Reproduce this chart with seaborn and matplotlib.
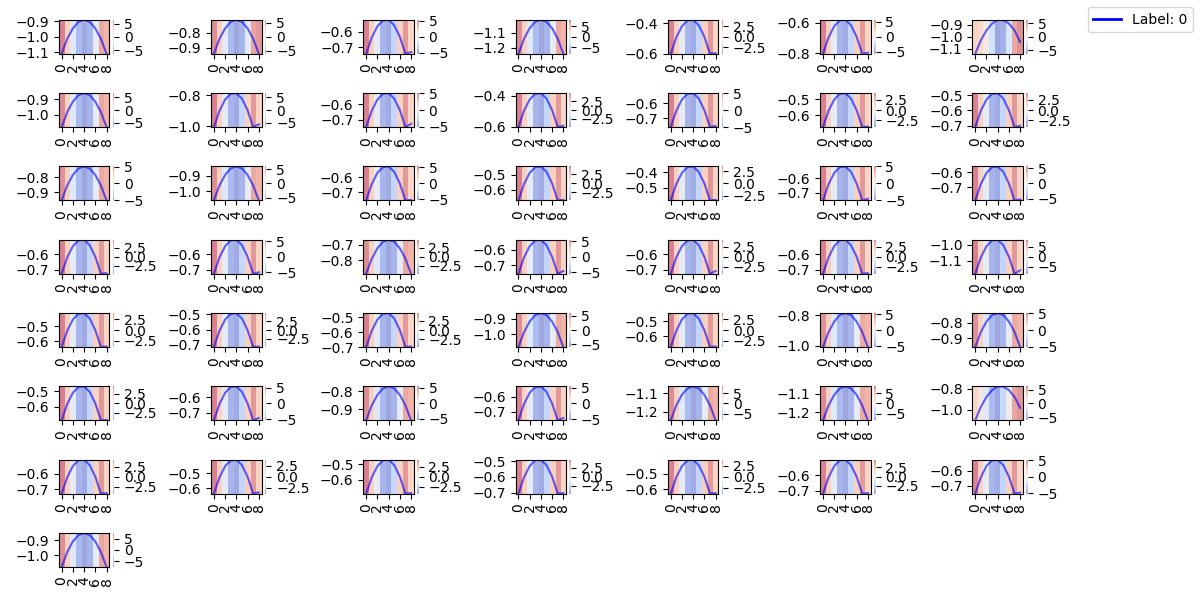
import numpy as np
import matplotlib
matplotlib.use("Agg")
import matplotlib.pyplot as plt
from matplotlib.lines import Line2D
import seaborn as sns

# ---------------- data ----------------
x_positions = [0, 1, 2, 3, 4, 5, 6, 7, 8]
x_ticks = [0, 2, 4, 6, 8]
legend_label = "Label: 0"

line_values = [
    [-1.111, -1.013, -0.945, -0.902, -0.889, -0.902, -0.945, -1.013, -1.111],
    [-0.938, -0.840, -0.772, -0.729, -0.716, -0.729, -0.772, -0.840, -0.938],
    [-0.744, -0.637, -0.564, -0.526, -0.522, -0.558, -0.633, -0.744, -0.733],
    [-1.240, -1.141, -1.072, -1.029, -1.016, -1.029, -1.072, -1.141, -1.240],
    [-0.601, -0.494, -0.421, -0.383, -0.379, -0.415, -0.490, -0.601, -0.597],
    [-0.804, -0.697, -0.624, -0.586, -0.582, -0.618, -0.693, -0.804, -0.797],
    [-1.143, -1.030, -0.946, -0.889, -0.857, -0.860, -0.889, -0.946, -1.043],
    [-1.082, -0.984, -0.916, -0.873, -0.860, -0.873, -0.916, -0.984, -1.082],
    [-1.004, -0.900, -0.828, -0.791, -0.787, -0.822, -0.896, -1.004, -0.986],
    [-0.749, -0.642, -0.569, -0.531, -0.527, -0.563, -0.638, -0.749, -0.727],
    [-0.604, -0.497, -0.424, -0.386, -0.382, -0.418, -0.493, -0.604, -0.595],
    [-0.760, -0.651, -0.576, -0.538, -0.533, -0.569, -0.647, -0.760, -0.751],
    [-0.676, -0.572, -0.501, -0.464, -0.460, -0.495, -0.568, -0.676, -0.672],
    [-0.709, -0.602, -0.529, -0.491, -0.487, -0.523, -0.598, -0.709, -0.700],
    [-0.956, -0.856, -0.786, -0.743, -0.729, -0.743, -0.786, -0.856, -0.956],
    [-1.060, -0.963, -0.895, -0.853, -0.840, -0.853, -0.895, -0.963, -1.060],
    [-0.756, -0.647, -0.572, -0.534, -0.529, -0.565, -0.643, -0.756, -0.752],
    [-0.671, -0.562, -0.487, -0.449, -0.444, -0.480, -0.558, -0.671, -0.667],
    [-0.584, -0.477, -0.404, -0.366, -0.362, -0.398, -0.473, -0.584, -0.580],
    [-0.751, -0.641, -0.566, -0.527, -0.522, -0.559, -0.637, -0.751, -0.740],
    [-0.789, -0.680, -0.605, -0.567, -0.562, -0.598, -0.676, -0.789, -0.782],
    [-0.727, -0.621, -0.549, -0.511, -0.507, -0.542, -0.617, -0.727, -0.723],
    [-0.727, -0.621, -0.549, -0.511, -0.507, -0.542, -0.617, -0.727, -0.718],
    [-0.889, -0.791, -0.723, -0.680, -0.667, -0.680, -0.723, -0.791, -0.889],
    [-0.756, -0.649, -0.575, -0.538, -0.533, -0.569, -0.645, -0.756, -0.738],
    [-0.727, -0.620, -0.546, -0.509, -0.504, -0.540, -0.616, -0.727, -0.709],
    [-0.727, -0.620, -0.547, -0.509, -0.505, -0.541, -0.616, -0.727, -0.723],
    [-1.182, -1.079, -1.008, -0.971, -0.967, -1.001, -1.075, -1.182, -1.160],
    [-0.640, -0.531, -0.456, -0.418, -0.413, -0.449, -0.527, -0.640, -0.636],
    [-0.716, -0.608, -0.534, -0.496, -0.491, -0.527, -0.604, -0.716, -0.712],
    [-0.700, -0.591, -0.516, -0.478, -0.473, -0.509, -0.587, -0.700, -0.696],
    [-1.082, -0.985, -0.917, -0.875, -0.862, -0.875, -0.917, -0.985, -1.082],
    [-0.669, -0.562, -0.489, -0.451, -0.447, -0.483, -0.558, -0.669, -0.665],
    [-1.007, -0.909, -0.840, -0.797, -0.784, -0.797, -0.840, -0.909, -1.007],
    [-0.956, -0.859, -0.791, -0.749, -0.736, -0.749, -0.791, -0.859, -0.956],
    [-0.689, -0.582, -0.509, -0.471, -0.467, -0.503, -0.578, -0.689, -0.685],
    [-0.751, -0.644, -0.571, -0.533, -0.529, -0.565, -0.640, -0.751, -0.735],
    [-0.960, -0.878, -0.821, -0.785, -0.774, -0.785, -0.821, -0.878, -0.960],
    [-0.756, -0.649, -0.575, -0.538, -0.533, -0.569, -0.645, -0.756, -0.740],
    [-1.245, -1.165, -1.109, -1.075, -1.064, -1.075, -1.109, -1.165, -1.245],
    [-1.243, -1.163, -1.107, -1.072, -1.061, -1.072, -1.107, -1.163, -1.243],
    [-1.100, -0.972, -0.877, -0.813, -0.777, -0.780, -0.813, -0.877, -0.981],
    [-0.729, -0.622, -0.549, -0.511, -0.507, -0.543, -0.618, -0.729, -0.725],
    [-0.636, -0.526, -0.451, -0.412, -0.407, -0.444, -0.522, -0.636, -0.627],
    [-0.689, -0.583, -0.511, -0.473, -0.469, -0.504, -0.579, -0.689, -0.685],
    [-0.707, -0.602, -0.530, -0.493, -0.489, -0.524, -0.598, -0.707, -0.703],
    [-0.629, -0.522, -0.449, -0.411, -0.407, -0.443, -0.518, -0.629, -0.625],
    [-0.718, -0.614, -0.543, -0.506, -0.502, -0.537, -0.610, -0.718, -0.714],
    [-0.751, -0.644, -0.571, -0.533, -0.529, -0.565, -0.640, -0.751, -0.744],
    [-1.082, -0.980, -0.907, -0.863, -0.849, -0.863, -0.907, -0.980, -1.082],
]

heat_values = [
    [6.4, 2.9, -1.3, -5.1, -6.2, -5.4, -0.6, 5.1, 4.5],
    [5.7, 2.7, -1.0, -4.8, -6.0, -5.1, -0.8, 4.9, 5.4],
    [5.3, 2.4, -0.5, -4.5, -5.0, -2.7, 2.4, 4.8, 2.1],
    [7.7, 3.6, -1.6, -6.5, -8.1, -6.9, -0.8, 6.5, 5.7],
    [4.0, 1.8, -0.4, -3.4, -3.8, -2.0, 1.8, 3.6, 1.6],
    [5.6, 2.5, -0.6, -4.8, -5.3, -2.8, 2.5, 5.0, 2.2],
    [2.5, 2.2, 0.6, -2.2, -6.25, -5.6, -1.6, 5.0, 5.9],
    [6.4, 3.0, -1.3, -5.4, -6.7, -5.7, -0.7, 5.4, 4.7],
    [6.7, 3.0, -0.7, -5.7, -6.4, -3.4, 3.0, 6.0, 2.7],
    [5.1, 2.3, -0.5, -4.3, -4.8, -2.6, 2.3, 4.6, 2.0],
    [4.8, 2.2, -0.5, -4.1, -4.6, -2.4, 2.2, 4.3, 1.9],
    [5.0, 2.3, -0.5, -4.3, -4.8, -2.5, 2.3, 4.5, 2.0],
    [4.2, 1.9, -0.4, -3.6, -4.0, -2.1, 1.9, 3.8, 1.7],
    [4.2, 1.9, -0.4, -3.6, -4.0, -2.1, 1.9, 3.8, 1.7],
    [4.8, 2.3, -1.0, -4.1, -5.1, -4.3, -0.5, 4.1, 3.6],
    [5.7, 2.7, -1.2, -4.8, -6.0, -5.1, -0.6, 4.8, 4.2],
    [5.3, 2.4, -0.5, -4.5, -5.0, -2.7, 2.4, 4.8, 2.1],
    [4.7, 2.1, -0.5, -4.0, -4.5, -2.4, 2.1, 4.2, 1.9],
    [3.5, 1.6, -0.4, -3.0, -3.3, -1.8, 1.6, 3.2, 1.4],
    [5.0, 2.3, -0.5, -4.3, -4.8, -2.5, 2.3, 4.5, 2.0],
    [5.6, 2.5, -0.6, -4.8, -5.3, -2.8, 2.5, 5.0, 2.2],
    [4.8, 2.2, -0.5, -4.1, -4.6, -2.4, 2.2, 4.3, 1.9],
    [5.4, 2.4, -0.5, -4.6, -5.1, -2.7, 2.4, 4.9, 2.2],
    [4.4, 2.1, -0.9, -3.7, -4.6, -3.9, -0.5, 3.7, 3.2],
    [5.5, 2.5, -0.6, -4.7, -5.2, -2.8, 2.5, 5.0, 2.2],
    [4.3, 1.9, -0.4, -3.7, -4.1, -2.2, 1.9, 3.9, 1.7],
    [4.3, 2.0, -0.4, -3.6, -4.1, -2.1, 1.9, 3.9, 1.8],
    [8.5, 3.8, -0.9, -7.2, -8.1, -4.3, 3.8, 7.7, 3.4],
    [3.9, 1.8, -0.4, -3.3, -3.7, -2.0, 1.8, 3.5, 1.6],
    [4.8, 2.2, -0.5, -4.1, -4.6, -2.4, 2.2, 4.3, 1.9],
    [4.6, 2.1, -0.5, -3.9, -4.4, -2.3, 2.1, 4.1, 1.8],
    [5.6, 2.7, -1.2, -4.7, -5.9, -5.0, -0.6, 4.7, 4.1],
    [3.9, 1.8, -0.4, -3.3, -3.7, -2.0, 1.8, 3.5, 1.6],
    [5.0, 2.4, -1.1, -4.2, -5.3, -4.5, -0.5, 4.2, 3.7],
    [4.8, 2.3, -1.0, -4.1, -5.1, -4.3, -0.5, 4.1, 3.6],
    [4.5, 2.0, -0.5, -3.8, -4.3, -2.3, 2.0, 4.1, 1.8],
    [5.4, 2.4, -0.5, -4.6, -5.1, -2.7, 2.4, 4.9, 2.2],
    [5.2, 2.5, -1.1, -4.4, -5.5, -4.7, -0.6, 4.4, 3.9],
    [5.4, 2.4, -0.5, -4.6, -5.1, -2.7, 2.4, 4.9, 2.2],
    [7.9, 3.7, -1.7, -6.6, -8.3, -7.1, -0.8, 6.6, 5.8],
    [8.0, 3.6, -1.6, -6.7, -8.3, -7.0, -0.9, 6.5, 5.9],
    [2.5, 1.0, -1.2, -5.0, -6.2, -3.0, 0.2, 5.0, 5.8],
    [4.2, 1.9, -0.4, -3.6, -4.0, -2.1, 1.9, 3.8, 1.7],
    [3.9, 1.8, -0.4, -3.3, -3.7, -2.0, 1.8, 3.5, 1.6],
    [4.2, 1.9, -0.4, -3.6, -4.0, -2.1, 1.9, 3.8, 1.7],
    [4.8, 2.2, -0.5, -4.1, -4.6, -2.4, 2.2, 4.3, 1.9],
    [3.9, 1.8, -0.4, -3.3, -3.7, -2.0, 1.8, 3.5, 1.6],
    [4.6, 2.1, -0.5, -3.9, -4.4, -2.3, 2.1, 4.1, 1.8],
    [5.1, 2.3, -0.5, -4.3, -4.8, -2.6, 2.3, 4.6, 2.0],
    [7.3, 3.5, -1.5, -6.2, -7.7, -6.5, -0.8, 6.2, 5.4],
]

# ---------------- figure ----------------
n_rows, n_cols = 8, 7
fig, axes = plt.subplots(n_rows, n_cols, figsize=(12, 6), dpi=100)
fig.subplots_adjust(left=0.049, right=0.863, top=0.967, bottom=0.055,
                    wspace=1.41, hspace=1.156)

axes_flat = axes.ravel()
x_arr = np.array(x_positions, dtype=float)
for i, ax in enumerate(axes_flat):
    if i >= len(line_values):
        ax.remove()
        continue
    y = np.array(line_values[i])
    h = np.array(heat_values[i])
    vlim = np.abs(h).max()
    ext = [x_arr[0] - 0.5, x_arr[-1] + 0.5, y.min(), y.max()]
    im = ax.imshow(h[np.newaxis, :], cmap="coolwarm", aspect="auto",
                   alpha=0.5, extent=ext, vmin=-vlim, vmax=vlim)
    sns.lineplot(x=x_arr, y=y, ax=ax, color="blue", alpha=0.6,
                 linewidth=1.5, legend=False)
    ax.set_xlim(ext[0], ext[1])
    ax.set_ylim(ext[2], ext[3])
    ax.set_xticks(x_ticks)
    ax.tick_params(axis="x", rotation=90)
    ax.set_xlabel("")
    ax.set_ylabel("")
    cb = fig.colorbar(im, ax=ax)
    cb.outline.set_visible(False)

fig.legend(handles=[Line2D([0], [0], color="blue", linewidth=2)],
           labels=[legend_label], loc="upper right")

fig.savefig("out.png", dpi=100)
